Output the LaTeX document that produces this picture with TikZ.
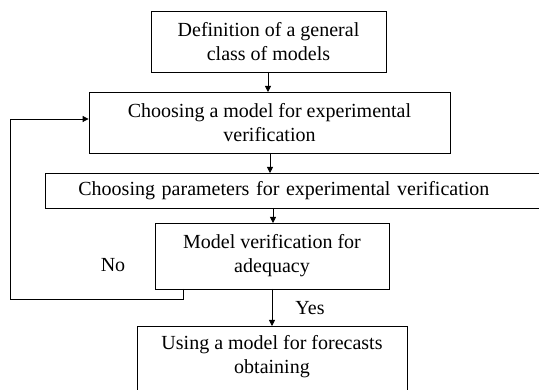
\documentclass[tikz,border=0pt]{standalone}
\usepackage{fontspec}
\setmainfont{Liberation Serif}
\usetikzlibrary{arrows.meta}
\begin{document}
\begin{tikzpicture}[x=1pt,y=-1pt,
  box/.style={draw,line width=0.8pt,align=center,inner sep=0pt,font=\fontsize{20}{24}\selectfont},
  lbl/.style={font=\fontsize{20}{24}\selectfont,inner sep=0pt},
  conn/.style={line width=0.8pt,-{Triangle[length=6pt,width=6pt]}}]
\useasboundingbox (0,0) rectangle (539,390);
\clip (0,0) rectangle (539,390);
\node[box,minimum width=235pt,minimum height=61pt] (b1) at (268.5,41.5) {Definition of a general\\class of models};
\node[box,minimum width=361pt,minimum height=61pt] (b2) at (269.5,122.5) {Choosing a model for experimental\\verification};
\node[box,anchor=north west,minimum width=510pt,minimum height=35pt,text width=444pt,align=left,inner xsep=33pt] (b3) at (45,173) {Choosing parameters for experimental verification};
\node[box,minimum width=234pt,minimum height=66pt] (b4) at (272,256) {Model verification for\\adequacy};
\node[box,anchor=north,minimum width=270pt,minimum height=68pt,text depth=12pt] (b5) at (272,326) {Using a model for forecasts\\obtaining};
\draw[conn] (268,72) -- (268,92);
\draw[conn] (270,153) -- (270,173);
\draw[conn] (273,208) -- (273,223);
\draw[conn] (272,289) -- (b5.north -| 272,289);
\coordinate (c1) at (183,299);
\coordinate (c2) at (10,299);
\coordinate (c3) at (10,119);
\draw[conn] (183,289) -- (c1) -- (c2) -- (c3) -- (b2.west |- c3);
\node[lbl] (no) at (113,265) {No};
\node[lbl] (yes) at (310,308) {Yes};
\end{tikzpicture}
\end{document}
